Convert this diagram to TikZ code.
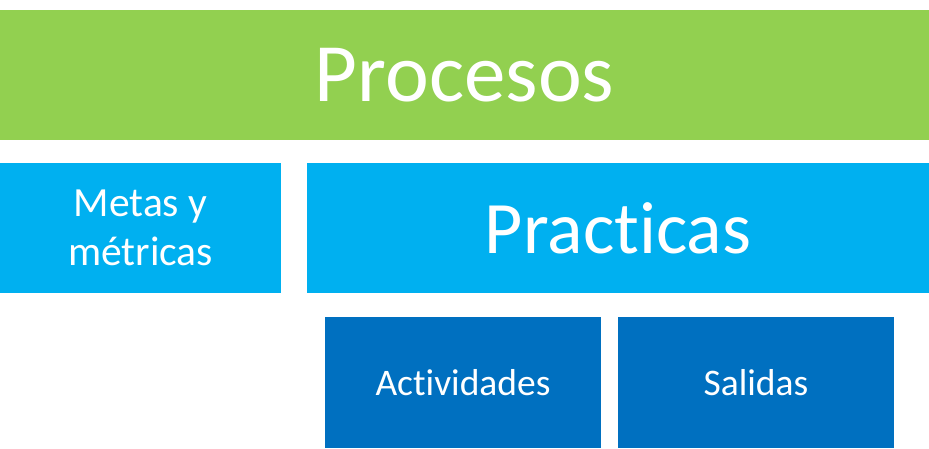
\documentclass[tikz,border=0pt]{standalone}
\usepackage{fontspec}
\setmainfont[Ligatures={NoCommon}]{Carlito}
\definecolor{cgreen}{HTML}{92D050}
\definecolor{clight}{HTML}{00B0F0}
\definecolor{cdark}{HTML}{0070C0}
\begin{document}
\begin{tikzpicture}[x=1pt,y=1pt,
  boxstyle/.style={inner sep=0pt, outer sep=0pt, text=white, align=center, anchor=south west}]
\useasboundingbox (0,0) rectangle (929,448);
\fill[white] (0,0) rectangle (929,448);
\node[boxstyle, fill=cgreen, minimum width=929pt, minimum height=130pt,
  font=\fontsize{83}{100}\selectfont] (proc) at (0,308) {Procesos};
\node[boxstyle, fill=clight, minimum width=281pt, minimum height=130pt,
  font=\fontsize{41.5}{49}\selectfont] (metas) at (0,155) {Metas y\\métricas};
\node[boxstyle, fill=clight, minimum width=622pt, minimum height=130pt,
  font=\fontsize{74}{90}\selectfont] (prac) at (307,155) {Practicas};
\node[boxstyle, fill=cdark, minimum width=276pt, minimum height=131pt,
  font=\fontsize{37.5}{44}\selectfont] (act) at (325,0) {Actividades};
\node[boxstyle, fill=cdark, minimum width=276pt, minimum height=131pt,
  font=\fontsize{37.5}{44}\selectfont] (sal) at (618,0) {Salidas};
\end{tikzpicture}
\end{document}
